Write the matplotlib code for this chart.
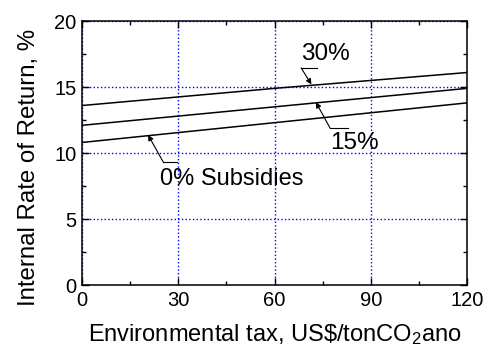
import numpy as np
import matplotlib
matplotlib.use("Agg")
import matplotlib.pyplot as plt

plt.rcParams['font.family'] = ['Liberation Sans', 'DejaVu Sans']
plt.rcParams['mathtext.fontset'] = 'custom'
plt.rcParams['mathtext.rm'] = 'Liberation Sans'
plt.rcParams['mathtext.it'] = 'Liberation Sans'

# datos
tax = [0, 30, 60, 90, 120]
irr_30 = [13.6, 14.25, 14.9, 15.5, 16.1]
irr_15 = [12.1, 12.8, 13.5, 14.2, 14.9]
irr_0 = [10.8, 11.55, 12.3, 13.05, 13.8]

xticks = [0, 30, 60, 90, 120]
yticks = [0, 5, 10, 15, 20]

fig = plt.figure(figsize=(4.93, 3.51), dpi=100)
ax = fig.add_axes([0.1663, 0.188, 0.781, 0.752])

ax.plot(tax, irr_30, color='black', lw=1.1)
ax.plot(tax, irr_15, color='black', lw=1.1)
ax.plot(tax, irr_0, color='black', lw=1.1)

ax.set_xlim(0, 120)
ax.set_ylim(0, 20)
ax.set_xticks(xticks)
ax.set_yticks(yticks)
ax.set_xticks([15, 45, 75, 105], minor=True)
ax.set_yticks([2.5, 7.5, 12.5, 17.5], minor=True)
ax.tick_params(which='both', direction='in', top=True, right=True, labelsize=14.5)
ax.tick_params(which='major', length=5, width=1, pad=4)
ax.tick_params(which='minor', length=3, width=1)
for s in ax.spines.values():
    s.set_linewidth(1.1)

ax.grid(True, which='major', color='blue', linestyle=':', linewidth=1)

ax.set_xlabel(r'Environmental tax, US\$/tonCO$_{2}$ano', fontsize=17, labelpad=9)
ax.set_ylabel('Internal Rate of Return, %', fontsize=17.3)
ax.yaxis.set_label_coords(-0.109, 0.447)

arrow = dict(arrowstyle='-|>', color='black', lw=0.8, mutation_scale=8, shrinkA=0, shrinkB=0)

# 30%
ax.annotate('', xy=(71.5, 15.2), xytext=(68.3, 16.45), arrowprops=arrow)
ax.plot([68.3, 73.3], [16.45, 16.45], color='black', lw=0.8)
ax.text(68.3, 16.7, '30%', fontsize=17.5, ha='left', va='bottom')

# 15%
ax.annotate('', xy=(72.9, 13.85), xytext=(77.3, 11.9), arrowprops=arrow)
ax.plot([77.3, 82.9], [11.9, 11.9], color='black', lw=0.8)
ax.text(77.3, 11.6, '15%', fontsize=17.5, ha='left', va='top')

# 0% Subsidies
ax.annotate('', xy=(20.6, 11.37), xytext=(25.3, 9.33), arrowprops=arrow)
ax.plot([25.3, 29.6], [9.33, 9.33], color='black', lw=0.8)
ax.text(24.3, 8.85, '0% Subsidies', fontsize=17, ha='left', va='top')

fig.savefig('out.png', dpi=100)
